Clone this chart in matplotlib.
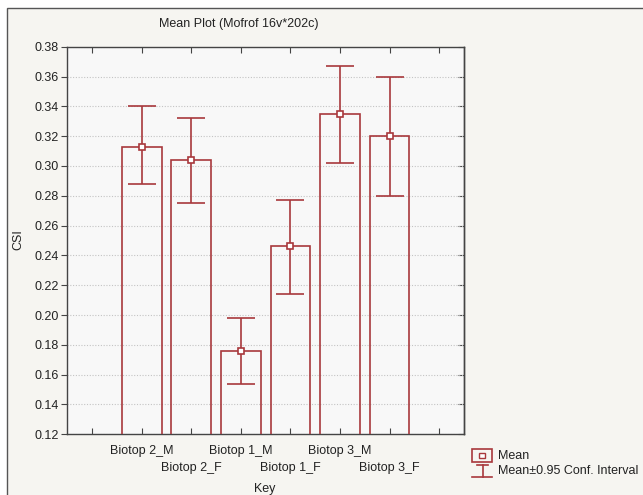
#!/usr/bin/env python
import matplotlib
matplotlib.use("Agg")
import matplotlib.pyplot as plt
from matplotlib.patches import Rectangle
from matplotlib.lines import Line2D
import numpy as np

# values
groups = ["Biotop 2_M", "Biotop 2_F", "Biotop 1_M", "Biotop 1_F", "Biotop 3_M", "Biotop 3_F"]
means = [0.313, 0.304, 0.176, 0.246, 0.335, 0.320]
ci_low = [0.288, 0.275, 0.154, 0.214, 0.302, 0.280]
ci_high = [0.340, 0.332, 0.198, 0.277, 0.367, 0.360]
yticks = [0.12, 0.14, 0.16, 0.18, 0.20, 0.22, 0.24, 0.26, 0.28, 0.30, 0.32, 0.34, 0.36, 0.38]

red = "#a8383c"
txt = "#222222"
plt.rcParams["font.family"] = ["Liberation Sans", "DejaVu Sans"]
plt.rcParams["font.size"] = 9

fig = plt.figure(figsize=(6.43, 4.95), dpi=100, facecolor="white")
# outer panel frame (cut off at right and bottom)
fig.patches.append(Rectangle((7 / 643, -0.1), 2, 1 - 8 / 495 + 0.1, transform=fig.transFigure,
                             facecolor="#f6f5f1", edgecolor="#555555", lw=1.0, zorder=-5))

ax = fig.add_axes([67.3 / 643, 1 - 434.3 / 495, (464 - 67.3) / 643, (434.3 - 46.7) / 495])
ax.set_facecolor("#f8f8f8")

x = np.arange(len(groups)) + 1.5
ax.bar(x, means, width=0.8, bottom=0, fill=False, edgecolor=red, lw=1.2, zorder=3)
means_a = np.array(means)
err = [means_a - np.array(ci_low), np.array(ci_high) - means_a]
ax.errorbar(x, means, yerr=err, fmt="s", ms=5, mfc="white", mec=red, mew=1.2,
            ecolor=red, elinewidth=1.2, capsize=10, capthick=1.2, zorder=4)

ax.set_xlim(0, 8)
ax.set_ylim(0.12, 0.38)
ax.set_yticks(yticks)
ax.set_yticklabels([f"{v:.2f}" for v in yticks], color=txt)
ax.yaxis.grid(True, ls=(0, (1, 1.5)), color="#c4c4c4", lw=0.8, zorder=1)
ax.tick_params(axis="y", direction="out", length=4, pad=2, color="#444444", right=False)

# inward tick marks between groups, labels staggered on two rows
ax.xaxis.remove_overlapping_locs = False
ax.set_xticks(np.arange(8) + 0.5)
ax.set_xticklabels([])
ax.tick_params(axis="x", which="major", direction="in", length=4, top=True, bottom=True, color="#444444")
ax.set_xticks(x[0::2], minor=True)
ax.set_xticklabels(groups[0::2], minor=True, color=txt)
ax.tick_params(axis="x", which="minor", length=0, pad=8)

row2 = ax.secondary_xaxis("bottom")
row2.set_xticks(x[1::2])
row2.set_xticklabels(groups[1::2], color=txt)
row2.tick_params(length=0, pad=20)
row2.spines["bottom"].set_visible(False)

sec = ax.secondary_yaxis("right")
sec.set_yticks(yticks)
sec.tick_params(direction="in", length=4, labelright=False, color="#444444")

for s in list(ax.spines.values()) + [sec.spines["right"]]:
    s.set_color("#444444")
    s.set_linewidth(1.0)

fig.text(239 / 643, 1 - 24 / 495, "Mean Plot (Mofrof 16v*202c)", ha="center", va="center", color=txt)
fig.text(18 / 643, 1 - 240 / 495, "CSI", rotation=90, ha="center", va="center", color=txt)
fig.text(265 / 643, 1 - 489 / 495, "Key", ha="center", va="center", color=txt)

# legend, drawn by hand like the original
W, H = 643.0, 495.0
fig.patches.append(Rectangle((472 / W, 1 - 462 / H), 20 / W, 13 / H, transform=fig.transFigure,
                             fill=False, edgecolor=red, lw=1.2))
fig.patches.append(Rectangle((479 / W, 1 - 458 / H), 6 / W, 5 / H, transform=fig.transFigure,
                             facecolor="white", edgecolor=red, lw=1.0))
for xs, ys in [((477, 488), (465, 465)), ((482.5, 482.5), (465, 477)), ((472, 492), (477, 477))]:
    fig.lines.append(Line2D([v / W for v in xs], [1 - v / H for v in ys], transform=fig.transFigure,
                            color=red, lw=1.2))
fig.text(498 / W, 1 - 456 / H, "Mean", ha="left", va="center", color=txt)
fig.text(498 / W, 1 - 471 / H, "Mean\u00b10.95 Conf. Interval", ha="left", va="center", color=txt)

fig.savefig("out.png", dpi=100, facecolor=fig.get_facecolor())
